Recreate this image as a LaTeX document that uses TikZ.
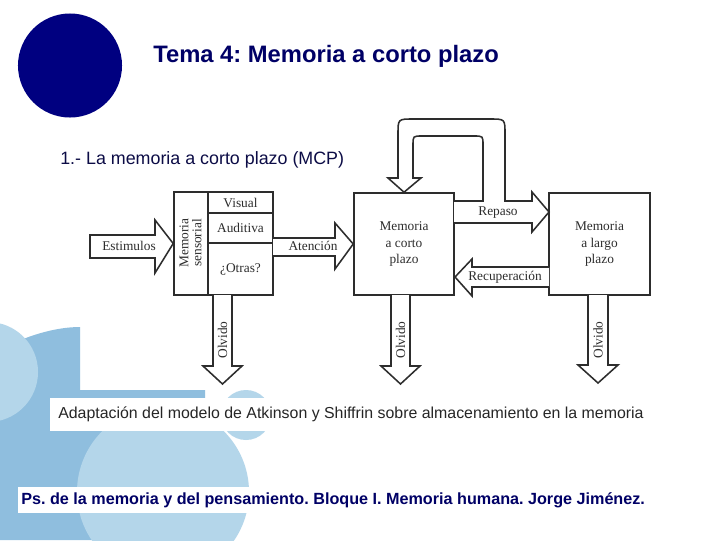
\documentclass[tikz,border=0pt]{standalone}
\usepackage{fontspec}
\setmainfont{Liberation Serif}
\setsansfont{Liberation Sans}
\usetikzlibrary{calc}
\frenchspacing

\definecolor{navy}{RGB}{0,0,128}
\definecolor{titleblue}{RGB}{0,0,102}
\definecolor{subblue}{RGB}{12,12,70}
\definecolor{bgdark}{RGB}{143,190,222}
\definecolor{bglight}{RGB}{180,214,234}
\definecolor{inkgray}{RGB}{45,45,45}

\newcommand{\diagfont}{\fontsize{9.5}{12}\selectfont}
\tikzset{
  memline/.style={draw=inkgray, line width=1.1pt},
  membox/.style={memline, align=center, inner sep=0pt, text=inkgray, font=\diagfont},
  blockarrow/.style={memline, fill=white, line join=miter},
  diaglabel/.style={text=inkgray, font=\diagfont, inner sep=0pt},
}

\begin{document}
\begin{tikzpicture}[x=0.025cm,y=-0.025cm]
\useasboundingbox (0,0) rectangle (720,540);
\fill[white] (0,0) rectangle (720,540);

\fill[bgdark] (0,350) .. controls (25,336) and (55,327) .. (80,327) -- (80,390) -- (205,390) -- (205,540) -- (0,540) -- cycle;
\fill[bglight] (-12,372) circle (1.25cm);
\fill[bglight] (163,492) circle (2.15cm);
\fill[bglight] (246,415) circle (0.625cm);
\fill[navy] (70,65.5) circle (1.3cm);

\node[anchor=west, text=titleblue, font=\sffamily\bfseries\fontsize{16.9}{20}\selectfont, inner sep=0pt] (tema) at (153,56) {Tema 4: Memoria a corto plazo};
\node[anchor=west, text=subblue, font=\sffamily\fontsize{12.7}{16}\selectfont, inner sep=0pt] (apartado) at (60,160) {1.- La memoria a corto plazo (MCP)};

\node[membox, minimum width=2.475cm, minimum height=2.575cm] (sens) at (223.5,243.5) {};
\draw[memline] (208,192) -- (208,295);
\draw[memline] (208,213) -- (273,213);
\draw[memline] (208,243) -- (273,243);
\node[diaglabel] (visual) at (240.5,203) {Visual};
\node[diaglabel] (auditiva) at (240.5,228) {Auditiva};
\node[diaglabel] (otras) at (240.5,269) {¿Otras?};
\node[diaglabel, rotate=90, align=center, font=\fontsize{9.5}{9.3}\selectfont] (sensorial) at (190.5,243) {Memoria\\sensorial};

\node[membox, minimum width=2.5cm, minimum height=2.55cm] (mcp) at (404,244) {Memoria\\a corto\\plazo};
\node[membox, minimum width=2.525cm, minimum height=2.55cm] (mlp) at (599.5,244) {Memoria\\a largo\\plazo};

\draw[blockarrow] (90,235) -- (155,235) -- (155,220) -- (sens.west) -- (155,273) -- (155,258) -- (90,258) -- cycle;
\node[diaglabel] (estimulos) at (129,246) {Estimulos};

\draw[blockarrow] (273,238) -- (335,238) -- (335,223) -- (mcp.west) -- (335,269) -- (335,256) -- (273,256);
\node[diaglabel] (atencion) at (313,246) {Atención};

\draw[blockarrow] (454,201) -- (483,201) -- (483,145) .. controls (483,136) .. (474,136) -- (422,136) .. controls (413,136) .. (413,145) -- (413,178) -- (421,178) -- (mcp.north) -- (388,178) -- (398,178) -- (398,134) .. controls (398,119) .. (413,119) -- (490,119) .. controls (505,119) .. (505,134) -- (505,201) -- (532,201) -- (532,192) -- (549,212) -- (532,232) -- (532,223) -- (454,223);
\node[diaglabel] (repaso) at (498,213) {Repaso};

\draw[blockarrow] (549,267) -- (472,267) -- (472,259) -- (455,277) -- (472,296) -- (472,287) -- (549,287);
\node[diaglabel] (recuperacion) at (505,277) {Recuperación};

\draw[blockarrow] (213,295) -- (213,366) -- (203,366) -- (222.5,384) -- (242,366) -- (232,366) -- (232,295);
\node[diaglabel, rotate=90] (olvido1) at (222.5,340) {Olvido};
\draw[blockarrow] (391,295) -- (391,366) -- (381,366) -- (400.5,384) -- (420,366) -- (410,366) -- (410,295);
\node[diaglabel, rotate=90] (olvido2) at (400.5,340) {Olvido};
\draw[blockarrow] (588,295) -- (588,365) -- (578,365) -- (598,383) -- (618,365) -- (608,365) -- (608,295);
\node[diaglabel, rotate=90] (olvido3) at (598,340) {Olvido};

\fill[white] (50,398) rectangle (655,431);
\node[anchor=west, text=black!85, font=\sffamily\fontsize{11.3}{13}\selectfont, inner sep=0pt] (pie) at (58,414) {Adaptación del modelo de Atkinson y Shiffrin sobre almacenamiento en la memoria};

\fill[white] (18,487) rectangle (660,513);
\node[anchor=west, text=titleblue, font=\sffamily\bfseries\fontsize{11.5}{13}\selectfont, inner sep=0pt] (autor) at (21,500) {Ps. de la memoria y del pensamiento. Bloque I. Memoria humana. Jorge Jiménez.};
\end{tikzpicture}
\end{document}
